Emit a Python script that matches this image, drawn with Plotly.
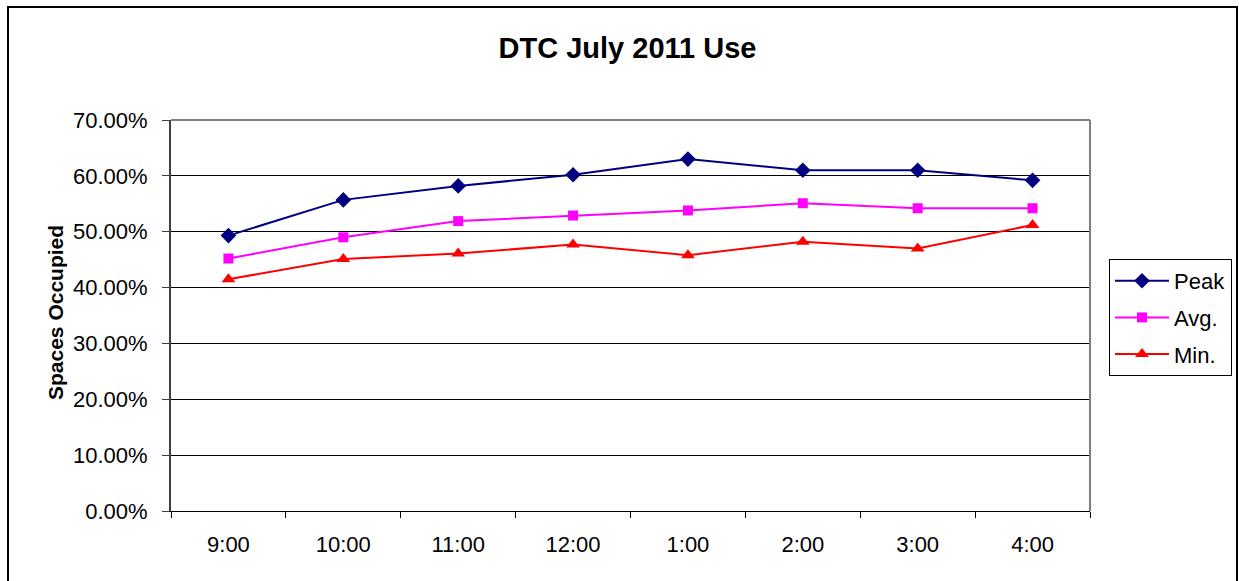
import plotly.graph_objects as go

times = ["9:00", "10:00", "11:00", "12:00", "1:00", "2:00", "3:00", "4:00"]
peak = [0.493, 0.557, 0.582, 0.602, 0.630, 0.610, 0.610, 0.592]
avg = [0.452, 0.490, 0.519, 0.529, 0.538, 0.551, 0.542, 0.542]
minimum = [0.415, 0.451, 0.461, 0.477, 0.458, 0.482, 0.470, 0.512]
y_ticks = [0.0, 0.1, 0.2, 0.3, 0.4, 0.5, 0.6, 0.7]

FONT = "Arial, 'Liberation Sans', sans-serif"

fig = go.Figure()
fig.add_trace(go.Scatter(x=times, y=peak, name="Peak", mode="lines+markers", legendgroup="a",
                         line=dict(color="#000080", width=2),
                         marker=dict(symbol="diamond", size=12, color="#000080")))
fig.add_trace(go.Scatter(x=times, y=avg, name="Avg.", mode="lines+markers", legendgroup="b",
                         line=dict(color="#FF00FF", width=2),
                         marker=dict(symbol="square", size=10, color="#FF00FF")))
fig.add_trace(go.Scatter(x=times, y=minimum, name="Min.", mode="lines+markers", legendgroup="c",
                         line=dict(color="#FF0000", width=2),
                         marker=dict(symbol="triangle-up", size=12, color="#FF0000")))

W, H = 1239, 581
L, R, T, B = 171, 0, 120, 70
PLOT_RIGHT = 1090
pw, ph = W - L - R, H - T - B

fig.update_layout(
    width=W, height=H,
    margin=dict(l=L, r=R, t=T, b=B, pad=0),
    paper_bgcolor="white", plot_bgcolor="white",
    font=dict(family=FONT, color="black", size=22),
    title=dict(text="<b>DTC July 2011 Use</b>", x=(498 + 757) / 2 / W, xanchor="center",
               y=1 - 48 / H, yanchor="middle", yref="container",
               font=dict(size=29, family=FONT, color="black")),
    showlegend=True,
    legend=dict(x=(1109 - L) / pw, y=(H - B - 259) / ph, xanchor="left", yanchor="top",
                bordercolor="black", borderwidth=1, bgcolor="white",
                font=dict(size=22, family=FONT), tracegroupgap=5,
                itemwidth=54),
)
fig.update_xaxes(
    type="category", range=[-0.5, 7.5], tickson="boundaries",
    domain=[0, (PLOT_RIGHT - L) / pw],
    ticks="outside", ticklen=6, tickcolor="black", tickwidth=1,
    showline=True, linecolor="black", linewidth=1, mirror=False,
    showgrid=False, tickfont=dict(size=22, family=FONT), ticklabelstandoff=14,
)
fig.update_yaxes(
    range=[0, 0.7], tickvals=y_ticks, tickformat=".2%",
    ticks="outside", ticklen=7, tickcolor="#404040", tickwidth=1,
    showline=True, linecolor="#404040", linewidth=2,
    showgrid=True, gridcolor="black", gridwidth=1, zeroline=False,
    tickfont=dict(size=22, family=FONT), ticklabelstandoff=10,
)
# plot area border (top and right)
fig.add_shape(type="line", xref="x domain", yref="y domain", x0=0, x1=1, y0=1, y1=1,
              line=dict(color="#808080", width=2))
fig.add_shape(type="line", xref="x domain", yref="y domain", x0=1, x1=1, y0=0, y1=1,
              line=dict(color="#808080", width=2))
# outer chart frame
fig.add_shape(type="rect", xref="paper", yref="paper",
              x0=(8 - L) / pw, x1=(1237 - L) / pw,
              y0=(H - B - 600) / ph, y1=(H - B - 7) / ph,
              line=dict(color="black", width=2), fillcolor="rgba(0,0,0,0)")
fig.add_annotation(text="<b>Spaces Occupied</b>", textangle=-90,
                   xref="paper", yref="paper", x=(55 - L) / pw, y=(H - B - 313) / ph,
                   xanchor="center", yanchor="middle", showarrow=False,
                   font=dict(size=21, family=FONT, color="black"))

fig.write_html("out.html", config={"displayModeBar": False},
               post_script="document.body.style.margin='0px';document.body.style.overflow='hidden';")
